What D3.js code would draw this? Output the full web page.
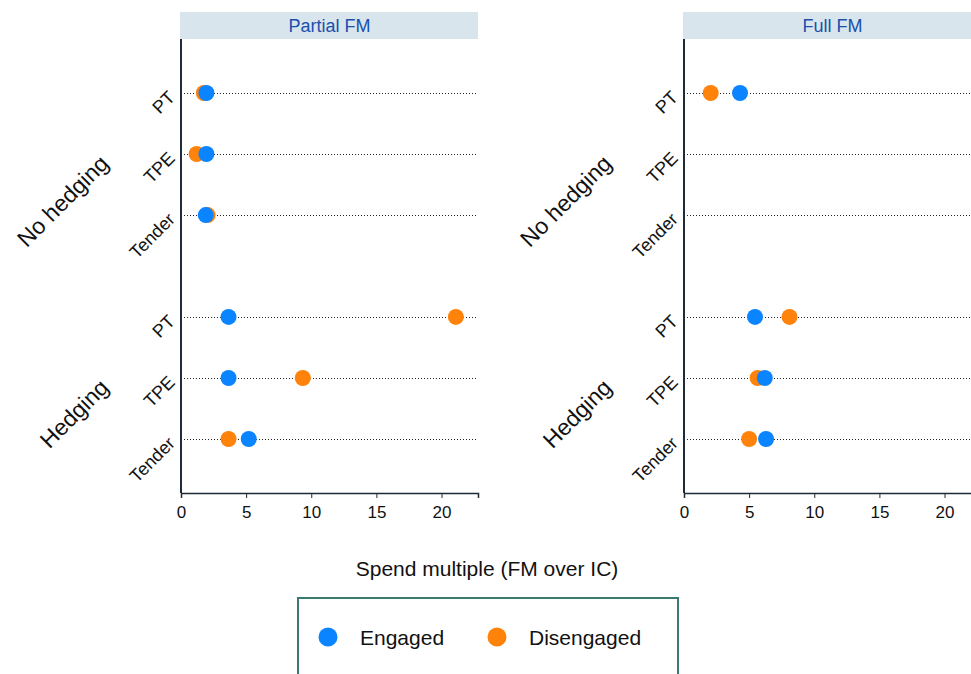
<!DOCTYPE html>
<html>
<head>
<meta charset="utf-8">
<script src="https://cdn.jsdelivr.net/npm/d3@7"></script>
<style>
  body { margin: 0; background: #fff; }
  text { font-family: "Liberation Sans", Arial, sans-serif; }
</style>
</head>
<body>
<div id="chart"></div>
<script>
// Data
const panels = ["Partial FM", "Full FM"];
const groups = ["No hedging", "Hedging"];
const categories = ["PT", "TPE", "Tender"];
const xTicks = [0, 5, 10, 15, 20];
const seriesNames = ["Engaged", "Disengaged"];
const seriesColors = ["#0a84ff", "#ff820a"];

// values per panel -> group -> category (null = no observation)
const engaged = [
  [[1.95, 1.95, 1.9], [3.65, 3.65, 5.2]],
  [[4.3, null, null], [5.45, 6.2, 6.3]]
];
const disengaged = [
  [[1.75, 1.2, 2.05], [21.1, 9.35, 3.65]],
  [[2.05, null, null], [8.1, 5.65, 5.0]]
];

const W = 971, H = 674;
const panelLeft = [181, 684];
const panelWidth = 297;
const plotTop = 39, plotBottom = 493;
const groupGap = 0.67;

const svg = d3.select("#chart").append("svg")
  .attr("width", W).attr("height", H);

const x = d3.scaleLinear().domain([0, 22.8]).range([0, panelWidth]);
const y = d3.scaleLinear().domain([-0.885, 5 + groupGap + 0.885]).range([plotTop, plotBottom]);
const rowPos = (g, c) => g * (categories.length + groupGap) + c;

panels.forEach((p, pi) => {
  const g0 = svg.append("g").attr("transform", `translate(${panelLeft[pi]},0)`);

  // header strip
  g0.append("rect")
    .attr("x", -1).attr("y", 12).attr("width", panelWidth + 1).attr("height", 27)
    .attr("fill", "#d8e5ec");
  g0.append("text")
    .attr("x", panelWidth / 2).attr("y", 32)
    .attr("text-anchor", "middle")
    .attr("fill", "#1a4fae")
    .style("font-size", "18px")
    .text(p);

  // dotted row lines + labels
  groups.forEach((gr, gi) => {
    categories.forEach((c, ci) => {
      const yy = Math.round(y(rowPos(gi, ci))) + 0.5;
      g0.append("line")
        .attr("x1", 0).attr("x2", panelWidth)
        .attr("y1", yy).attr("y2", yy)
        .attr("stroke", "#222").attr("stroke-width", 1)
        .attr("stroke-dasharray", "1,2");
      g0.append("text")
        .attr("transform", `translate(-5,${yy + 5}) rotate(-45)`)
        .attr("text-anchor", "end")
        .style("font-size", "18px")
        .attr("fill", "#111")
        .text(c);
    });
    const mid = y(rowPos(gi, 1));
    g0.append("text")
      .attr("transform", `translate(-71,${mid + 11}) rotate(-45)`)
      .attr("text-anchor", "end")
      .style("font-size", "23px")
      .attr("fill", "#111")
      .text(gr);
  });

  // x axis
  const ax = g0.append("g")
    .attr("transform", `translate(0,${plotBottom})`)
    .call(d3.axisBottom(x).tickValues(xTicks).tickSize(5).tickPadding(8));
  ax.select(".domain").attr("stroke", "#1f2b36").attr("stroke-width", 1.5);
  ax.selectAll(".tick line").attr("stroke", "#1f2b36");
  ax.selectAll(".tick text")
    .style("font-family", "'Liberation Sans', Arial, sans-serif")
    .style("font-size", "17px").attr("fill", "#111");

  // y axis line
  g0.append("line")
    .attr("x1", 0).attr("x2", 0).attr("y1", plotTop).attr("y2", plotBottom)
    .attr("stroke", "#1f2b36").attr("stroke-width", 2);

  // dots: disengaged first, engaged on top
  [disengaged, engaged].forEach((series, si) => {
    const color = si === 0 ? seriesColors[1] : seriesColors[0];
    const pts = [];
    groups.forEach((gr, gi) => categories.forEach((c, ci) => {
      const v = series[pi][gi][ci];
      if (v != null) pts.push({v, gi, ci});
    }));
    g0.selectAll(null).data(pts).enter().append("circle")
      .attr("cx", d => x(d.v))
      .attr("cy", d => y(rowPos(d.gi, d.ci)))
      .attr("r", 8)
      .attr("fill", color);
  });
});

// x title
svg.append("text")
  .attr("x", 487).attr("y", 576)
  .attr("text-anchor", "middle")
  .style("font-size", "21px").attr("fill", "#111")
  .text("Spend multiple (FM over IC)");

// legend
const lg = svg.append("g");
lg.append("rect")
  .attr("x", 298).attr("y", 598).attr("width", 380).attr("height", 90)
  .attr("fill", "#fff").attr("stroke", "#3b7a6e").attr("stroke-width", 2);
const legX = [328, 497];
seriesNames.forEach((s, i) => {
  lg.append("circle").attr("cx", legX[i]).attr("cy", 637).attr("r", 9.5).attr("fill", seriesColors[i]);
  lg.append("text").attr("x", legX[i] + 32).attr("y", 645)
    .style("font-size", "21px").attr("fill", "#111").text(s);
});
</script>
</body>
</html>
